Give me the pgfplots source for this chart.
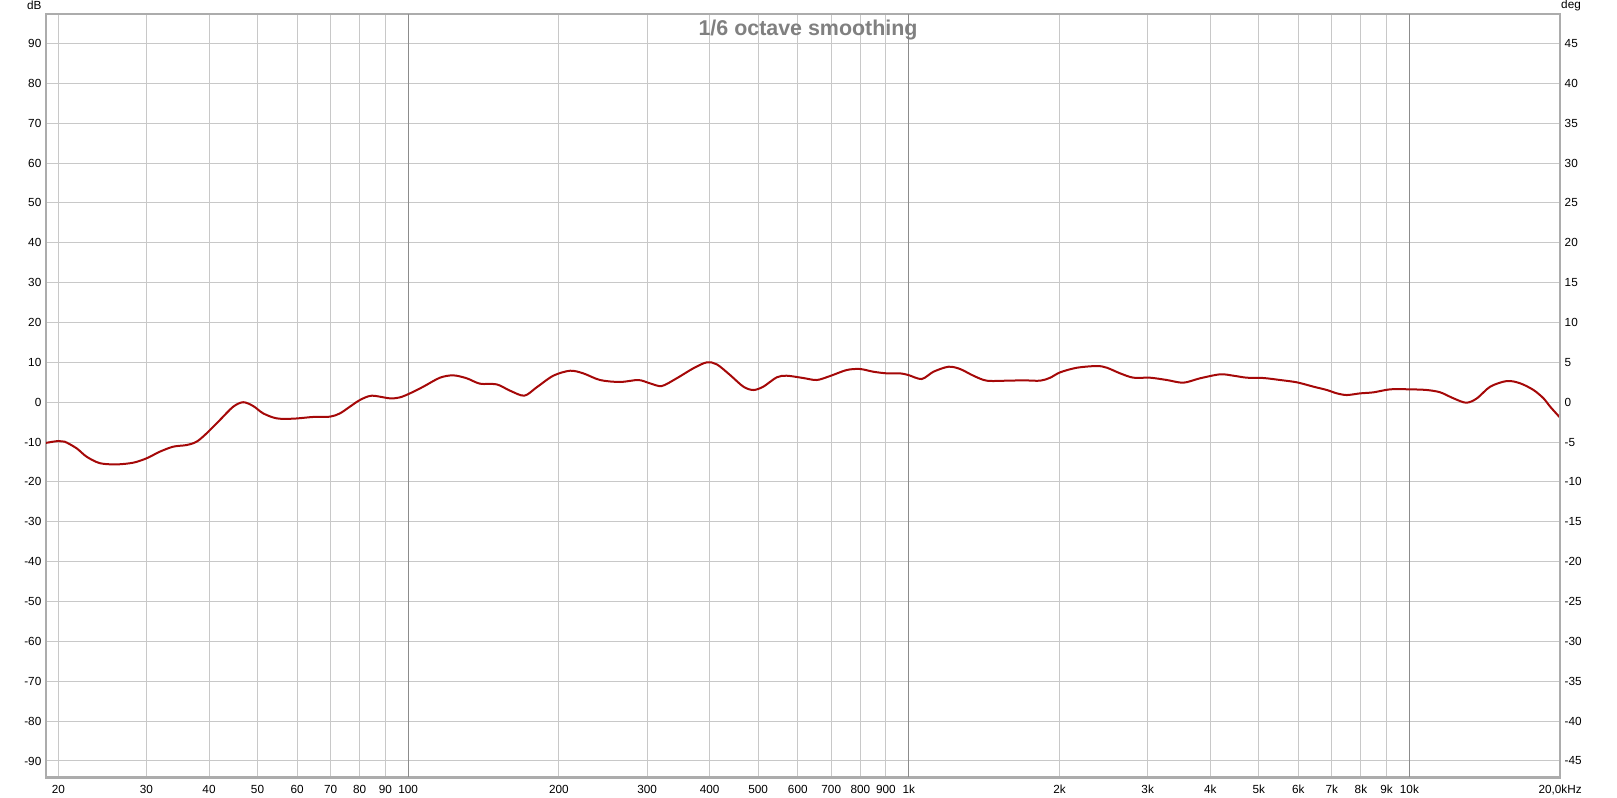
\documentclass[border=0pt]{standalone}
\usepackage{pgfplots}
\pgfplotsset{compat=1.18}
\usepackage{fontspec}
\setmainfont{Liberation Sans}

\definecolor{framegray}{RGB}{172,172,172}
\definecolor{gridgray}{RGB}{200,200,200}
\definecolor{decadegray}{RGB}{140,140,140}
\definecolor{titlegray}{RGB}{128,128,128}
\definecolor{curvered}{RGB}{165,8,8}

\begin{document}
\begin{tikzpicture}[x=1bp,y=1bp]
  \useasboundingbox (0,0) rectangle (1617,798);
  % left axis: dB, log frequency
  \begin{axis}[
    at={(46bp,20.7bp)}, anchor=south west,
    scale only axis,
    width=1514bp, height=763.3bp,
    xmode=log,
    xmin=18.9, xmax=20000,
    ymin=-94.1, ymax=97.4,
    axis line style={draw=framegray, line width=2.5bp},
    major tick length=0pt,
    tick style={draw=none},
    xtick={20,30,40,50,60,70,80,90,200,300,400,500,600,700,800,900,2000,3000,4000,5000,6000,7000,8000,9000,20000},
    xticklabels={20,30,40,50,60,70,80,90,200,300,400,500,600,700,800,900,2k,3k,4k,5k,6k,7k,8k,9k,{20,0kHz}},
    extra x ticks={100,1000,10000},
    extra x tick labels={100,1k,10k},
    extra x tick style={major grid style={draw=decadegray, line width=1bp}},
    ytick={-90,-80,...,90},
    yticklabels={-90,-80,-70,-60,-50,-40,-30,-20,-10,0,10,20,30,40,50,60,70,80,90},
    grid=major,
    major grid style={draw=gridgray, line width=1bp},
    ticklabel style={font=\fontsize{11.8}{14}\selectfont, text=black, inner sep=0pt},
    xticklabel shift=7.5bp,
    yticklabel shift=4.5bp,
    ylabel={dB},
    every axis y label/.style={at={(rel axis cs:0,1)}, anchor=base east, inner sep=0pt,
      xshift=-4.3bp, yshift=4.7bp, font=\fontsize{11.8}{14}\selectfont, text=black},
    title={1/6 octave smoothing},
    title style={at={(0.5,1)}, anchor=base, inner sep=0pt, xshift=5bp, yshift=-27bp,
      font=\bfseries\fontsize{21.5}{24}\selectfont, text=titlegray},
    clip=true,
  ]
    \addplot [curvered, line width=2bp, smooth, tension=0.5] coordinates {
      (18.9,-10.2) (20.0,-9.73) (20.6,-9.9) (21.76,-11.57) (22.78,-13.67)
      (24.22,-15.3) (26.16,-15.6) (28.23,-15.17) (30.02,-14.07) (31.92,-12.4)
      (33.93,-11.15) (36.09,-10.74) (37.79,-9.9) (39.57,-7.8) (42.06,-4.46)
      (44.71,-1.12) (46.81,0.0) (49.01,-0.95) (51.32,-2.8) (54.60,-4.05)
      (58.95,-4.13) (64.61,-3.7) (69.76,-3.63) (73.05,-2.8) (76.48,-1.12)
      (80.08,0.55) (84.51,1.63) (91.96,0.97) (96.28,1.22) (100.8,2.22)
      (107.2,3.9) (115.7,6.15) (123.0,6.74) (130.9,6.0) (139.1,4.65)
      (150.2,4.48) (159.7,2.9) (170.6,1.64) (180.6,3.75) (194.9,6.65)
      (210.5,7.9) (223.7,7.24) (241.6,5.57) (264.9,5.07) (288.2,5.57)
      (304.1,4.74) (320.9,4.06) (343.8,6.0) (371.1,8.5) (394.8,10.0)
      (413.4,9.5) (439.5,6.82) (467.2,3.9) (489.1,3.06) (512.1,3.9)
      (544.6,6.24) (570.2,6.65) (615.5,6.07) (654.8,5.57) (696.1,6.57)
      (751.6,8.08) (799.1,8.33) (849.5,7.65) (903.4,7.24) (960.6,7.24)
      (998,6.82) (1061,5.82) (1120,7.65) (1200,8.9) (1266,8.33)
      (1346,6.65) (1431,5.4) (1569,5.4) (1694,5.49) (1830,5.4)
      (1916,6.15) (2006,7.5) (2166,8.65) (2375,9.08) (2487,8.65)
      (2643,7.24) (2810,6.15) (3034,6.15) (3277,5.57) (3536,4.9)
      (3818,6.0) (4188,7.0) (4452,6.65) (4735,6.15) (5110,6.07)
      (5518,5.57) (5959,4.99) (6432,3.9) (6841,3.06) (7163,2.22)
      (7501,1.8) (7974,2.22) (8477,2.48) (9154,3.23) (10036,3.23)
      (10838,3.06) (11522,2.48) (12248,0.97) (12986,-0.13) (13642,0.97)
      (14502,3.9) (15658,5.32) (16646,4.74) (17697,3.06) (18532,0.97)
      (19107,-1.12) (19916,-3.63) (20000,-3.9)
    };
  \end{axis}
  % right axis: degrees
  \begin{axis}[
    at={(46bp,20.7bp)}, anchor=south west,
    scale only axis,
    width=1514bp, height=763.3bp,
    xmin=0, xmax=1,
    hide x axis,
    axis y line*=right,
    ymin=-47.05, ymax=48.7,
    axis line style={draw=framegray, line width=2.5bp},
    major tick length=0pt,
    tick style={draw=none},
    ytick={-45,-40,...,45},
    yticklabels={-45,-40,-35,-30,-25,-20,-15,-10,-5,0,5,10,15,20,25,30,35,40,45},
    ticklabel style={font=\fontsize{11.8}{14}\selectfont, text=black, inner sep=0pt},
    yticklabel shift=4.5bp,
    ylabel={deg},
    every axis y label/.style={at={(rel axis cs:1,1)}, anchor=base west, inner sep=0pt,
      xshift=1bp, yshift=5.5bp, font=\fontsize{11.8}{14}\selectfont, text=black},
  ]
  \end{axis}
\end{tikzpicture}
\end{document}
